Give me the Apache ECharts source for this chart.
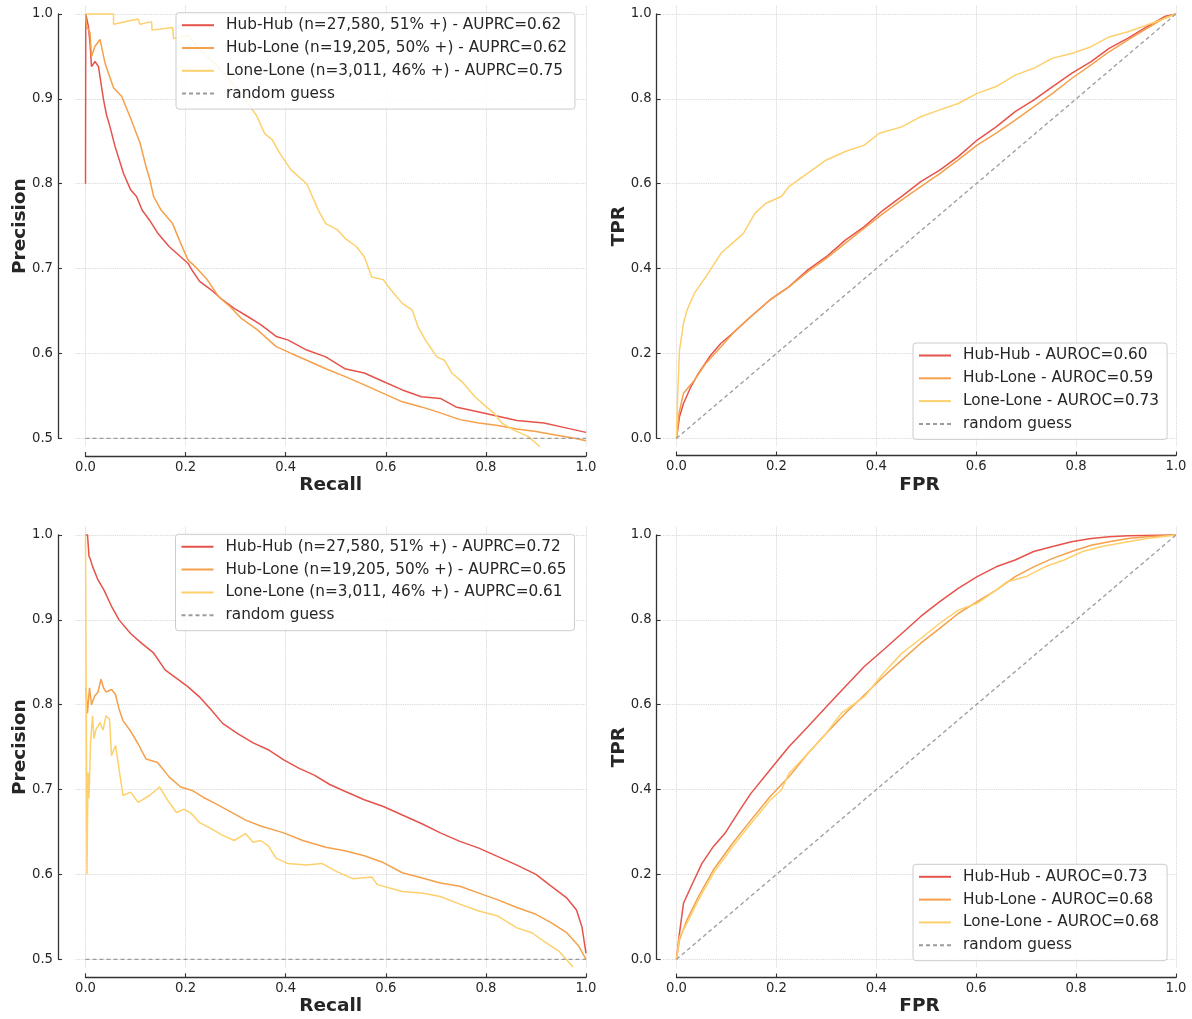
<!DOCTYPE html>
<html><head><meta charset="utf-8">
<script src="https://cdn.jsdelivr.net/npm/echarts@6/dist/echarts.min.js"></script>
<style>html,body{margin:0;padding:0;background:#fff}#c{width:1192px;height:1019px}</style>
</head><body><div id="c"></div>
<script>
// ---------------- DATA ----------------
// Panel 1 (top-left): precision-recall, [recall, precision]
const pr1HubHub = [[0,0.8],[0.0005,1.0],[0.0056,0.986],[0.009,0.966],[0.012,0.938],[0.019,0.944],[0.026,0.938],[0.029,0.926],[0.036,0.899],[0.042,0.881],[0.049,0.867],[0.059,0.844],[0.076,0.812],[0.09,0.793],[0.102,0.785],[0.113,0.769],[0.128,0.757],[0.144,0.742],[0.167,0.726],[0.19,0.714],[0.205,0.706],[0.213,0.698],[0.228,0.685],[0.251,0.675],[0.274,0.663],[0.297,0.653],[0.32,0.645],[0.35,0.634],[0.381,0.62],[0.404,0.616],[0.442,0.604],[0.48,0.596],[0.518,0.582],[0.557,0.577],[0.595,0.567],[0.633,0.557],[0.671,0.549],[0.709,0.547],[0.74,0.537],[0.786,0.531],[0.824,0.526],[0.862,0.521],[0.916,0.518],[0.962,0.512],[1.0,0.507]];
const pr1HubLone = [[0,1.0],[0.002,0.986],[0.009,0.978],[0.012,0.95],[0.019,0.962],[0.029,0.97],[0.032,0.968],[0.039,0.942],[0.056,0.913],[0.072,0.903],[0.089,0.879],[0.109,0.848],[0.121,0.82],[0.129,0.804],[0.136,0.785],[0.151,0.769],[0.174,0.753],[0.19,0.73],[0.205,0.71],[0.22,0.702],[0.243,0.687],[0.266,0.667],[0.289,0.655],[0.312,0.641],[0.343,0.628],[0.381,0.608],[0.411,0.6],[0.442,0.592],[0.48,0.582],[0.518,0.573],[0.557,0.563],[0.595,0.553],[0.633,0.543],[0.671,0.537],[0.709,0.53],[0.748,0.522],[0.786,0.518],[0.824,0.515],[0.862,0.511],[0.9,0.508],[0.939,0.504],[0.977,0.5],[1.0,0.497]];
const pr1LoneLone = [[0,1.0],[0.056,1.0],[0.056,0.988],[0.105,0.994],[0.109,0.988],[0.132,0.991],[0.133,0.981],[0.174,0.984],[0.176,0.971],[0.205,0.975],[0.228,0.958],[0.258,0.942],[0.289,0.922],[0.32,0.899],[0.343,0.879],[0.358,0.859],[0.373,0.852],[0.388,0.836],[0.411,0.816],[0.442,0.8],[0.465,0.769],[0.48,0.753],[0.503,0.746],[0.518,0.736],[0.541,0.726],[0.557,0.714],[0.572,0.69],[0.595,0.687],[0.61,0.675],[0.633,0.659],[0.653,0.651],[0.664,0.632],[0.679,0.616],[0.702,0.596],[0.717,0.592],[0.732,0.577],[0.755,0.565],[0.778,0.549],[0.801,0.537],[0.817,0.529],[0.832,0.518],[0.855,0.51],[0.885,0.502],[0.908,0.49]];
const pr1Random = [[0,0.5],[1,0.5]];

// Panel 2 (top-right): ROC, [FPR, TPR]
const roc1HubHub = [[0,0],[0.006,0.051],[0.014,0.082],[0.029,0.122],[0.044,0.153],[0.066,0.192],[0.089,0.224],[0.112,0.247],[0.149,0.287],[0.187,0.326],[0.225,0.357],[0.263,0.397],[0.3,0.428],[0.338,0.467],[0.376,0.499],[0.414,0.538],[0.451,0.57],[0.489,0.605],[0.527,0.632],[0.564,0.664],[0.602,0.703],[0.64,0.734],[0.678,0.77],[0.715,0.797],[0.753,0.829],[0.791,0.86],[0.83,0.888],[0.866,0.919],[0.904,0.943],[0.942,0.97],[0.979,0.995],[1,1]];
const roc1HubLone = [[0,0],[0.005,0.059],[0.014,0.106],[0.036,0.137],[0.059,0.177],[0.089,0.216],[0.119,0.255],[0.149,0.287],[0.187,0.326],[0.225,0.357],[0.263,0.393],[0.3,0.424],[0.338,0.46],[0.376,0.495],[0.414,0.53],[0.451,0.562],[0.489,0.593],[0.527,0.624],[0.564,0.656],[0.602,0.691],[0.64,0.719],[0.678,0.75],[0.715,0.781],[0.753,0.813],[0.791,0.848],[0.83,0.88],[0.866,0.911],[0.904,0.939],[0.942,0.966],[0.979,0.992],[1,1]];
const roc1LoneLone = [[0,0],[0.002,0.09],[0.006,0.208],[0.014,0.271],[0.021,0.302],[0.036,0.342],[0.059,0.381],[0.089,0.436],[0.112,0.46],[0.134,0.483],[0.157,0.53],[0.179,0.554],[0.21,0.57],[0.225,0.593],[0.263,0.625],[0.3,0.656],[0.338,0.676],[0.376,0.691],[0.406,0.719],[0.451,0.734],[0.489,0.758],[0.527,0.774],[0.564,0.789],[0.602,0.813],[0.64,0.829],[0.678,0.856],[0.715,0.872],[0.753,0.896],[0.791,0.907],[0.83,0.923],[0.866,0.946],[0.904,0.958],[0.942,0.974],[0.979,0.99],[1,1]];
const roc1Random = [[0,0],[1,1]];

// Panel 3 (bottom-left): precision-recall
const pr2HubHub = [[0,1.0],[0.004,1.0],[0.007,0.975],[0.01,0.971],[0.014,0.963],[0.025,0.947],[0.037,0.935],[0.052,0.916],[0.067,0.9],[0.09,0.884],[0.113,0.872],[0.136,0.861],[0.159,0.841],[0.182,0.831],[0.205,0.821],[0.228,0.809],[0.251,0.794],[0.274,0.778],[0.304,0.766],[0.335,0.755],[0.365,0.747],[0.396,0.735],[0.427,0.725],[0.457,0.717],[0.488,0.706],[0.518,0.698],[0.557,0.688],[0.595,0.68],[0.633,0.67],[0.671,0.66],[0.709,0.649],[0.748,0.639],[0.786,0.631],[0.824,0.621],[0.862,0.611],[0.9,0.6],[0.931,0.586],[0.962,0.572],[0.981,0.558],[0.992,0.538],[1.0,0.507]];
const pr2HubLone = [[0.001,0.82],[0.004,0.79],[0.008,0.82],[0.012,0.8],[0.018,0.81],[0.025,0.815],[0.031,0.83],[0.036,0.82],[0.041,0.815],[0.052,0.818],[0.06,0.812],[0.067,0.795],[0.075,0.781],[0.09,0.769],[0.105,0.754],[0.121,0.736],[0.144,0.732],[0.167,0.715],[0.19,0.703],[0.213,0.699],[0.235,0.691],[0.258,0.684],[0.289,0.674],[0.32,0.664],[0.35,0.657],[0.396,0.649],[0.434,0.64],[0.48,0.632],[0.518,0.628],[0.557,0.622],[0.595,0.614],[0.633,0.602],[0.671,0.596],[0.709,0.59],[0.748,0.586],[0.786,0.578],[0.824,0.57],[0.862,0.561],[0.9,0.553],[0.931,0.543],[0.962,0.531],[0.985,0.516],[1.0,0.5]];
const pr2LoneLone = [[0,1.0],[0.0015,0.8],[0.003,0.6],[0.005,0.72],[0.007,0.69],[0.01,0.755],[0.014,0.787],[0.017,0.76],[0.021,0.771],[0.029,0.779],[0.035,0.77],[0.041,0.787],[0.048,0.783],[0.052,0.74],[0.06,0.752],[0.067,0.724],[0.075,0.693],[0.09,0.697],[0.105,0.685],[0.128,0.693],[0.148,0.703],[0.167,0.685],[0.182,0.673],[0.197,0.677],[0.213,0.671],[0.228,0.661],[0.251,0.654],[0.274,0.646],[0.297,0.64],[0.32,0.648],[0.335,0.638],[0.35,0.64],[0.365,0.634],[0.381,0.619],[0.404,0.613],[0.442,0.611],[0.472,0.613],[0.503,0.603],[0.534,0.595],[0.572,0.597],[0.583,0.588],[0.633,0.58],[0.671,0.578],[0.709,0.574],[0.748,0.565],[0.786,0.557],[0.824,0.551],[0.862,0.537],[0.893,0.531],[0.916,0.521],[0.947,0.509],[0.974,0.491]];
const pr2Random = [[0,0.5],[1,0.5]];

// Panel 4 (bottom-right): ROC
const roc2HubHub = [[0,0],[0.005,0.053],[0.014,0.132],[0.029,0.171],[0.051,0.226],[0.074,0.266],[0.097,0.297],[0.127,0.352],[0.149,0.391],[0.187,0.446],[0.225,0.501],[0.263,0.548],[0.3,0.595],[0.338,0.643],[0.376,0.69],[0.414,0.729],[0.451,0.768],[0.489,0.808],[0.527,0.843],[0.564,0.874],[0.602,0.902],[0.64,0.925],[0.678,0.941],[0.715,0.961],[0.753,0.973],[0.791,0.984],[0.83,0.992],[0.866,0.996],[0.904,0.998],[1,1]];
const roc2HubLone = [[0,0],[0.006,0.046],[0.021,0.093],[0.044,0.148],[0.074,0.211],[0.112,0.273],[0.149,0.328],[0.187,0.383],[0.225,0.43],[0.263,0.485],[0.3,0.533],[0.338,0.58],[0.376,0.623],[0.414,0.666],[0.451,0.705],[0.489,0.745],[0.527,0.78],[0.564,0.815],[0.602,0.843],[0.64,0.87],[0.678,0.902],[0.715,0.925],[0.753,0.945],[0.791,0.961],[0.83,0.976],[0.866,0.984],[0.904,0.992],[0.942,0.996],[1,1]];
const roc2LoneLone = [[0,0],[0.006,0.053],[0.021,0.085],[0.044,0.14],[0.074,0.203],[0.112,0.265],[0.149,0.32],[0.187,0.375],[0.21,0.399],[0.225,0.438],[0.263,0.485],[0.3,0.533],[0.33,0.58],[0.376,0.619],[0.414,0.674],[0.451,0.721],[0.489,0.756],[0.527,0.792],[0.564,0.823],[0.602,0.839],[0.64,0.87],[0.662,0.89],[0.7,0.902],[0.738,0.925],[0.776,0.941],[0.813,0.961],[0.851,0.973],[0.904,0.984],[0.942,0.992],[1,1]];
const roc2Random = [[0,0],[1,1]];

const xTicks = [0, 0.2, 0.4, 0.6, 0.8, 1.0];
const prNames1 = ['Hub-Hub (n=27,580, 51% +) - AUPRC=0.62','Hub-Lone (n=19,205, 50% +) - AUPRC=0.62','Lone-Lone (n=3,011, 46% +) - AUPRC=0.75','random guess'];
const prNames2 = ['Hub-Hub (n=27,580, 51% +) - AUPRC=0.72','Hub-Lone (n=19,205, 50% +) - AUPRC=0.65','Lone-Lone (n=3,011, 46% +) - AUPRC=0.61','random guess'];
const rocNames1 = ['Hub-Hub - AUROC=0.60','Hub-Lone - AUROC=0.59','Lone-Lone - AUROC=0.73','random guess'];
const rocNames2 = ['Hub-Hub - AUROC=0.73','Hub-Lone - AUROC=0.68','Lone-Lone - AUROC=0.68','random guess'];

// ---------------- STYLE / LAYOUT ----------------
const COLORS = ['#e5534b', '#f5a04a', '#fdd06c'];
const GRAY = '#9b9b9b';
const FONT = 'DejaVu Sans';
const TXT = '#262626';
const SPINE = '#333333';

const panels = [
  {x0:85.5, x1:586, yTop:14, yBot:438.3, vTop:1.0, vBot:0.5, xlim:[-0.02,1.0], ylim:[0.49,1.01], spineY:456, spineX:58, yInt:0.1,
   xName:'Recall', yName:'Precision', yGap:46, series:[pr1HubHub,pr1HubLone,pr1LoneLone,pr1Random], names:prNames1, legend:{left:176, top:12.7}},
  {x0:676.5, x1:1176, yTop:14, yBot:438.3, vTop:1.0, vBot:0.0, xlim:[-0.027,1.0], ylim:[-0.02,1.02], spineY:455.5, spineX:656.7, yInt:0.2,
   xName:'FPR', yName:'TPR', yGap:34, series:[roc1HubHub,roc1HubLone,roc1LoneLone,roc1Random], names:rocNames1, legend:{left:913, top:343}},
  {x0:85.5, x1:586, yTop:535, yBot:959.3, vTop:1.0, vBot:0.5, xlim:[-0.02,1.0], ylim:[0.49,1.01], spineY:977.3, spineX:58, yInt:0.1,
   xName:'Recall', yName:'Precision', yGap:46, series:[pr2HubHub,pr2HubLone,pr2LoneLone,pr2Random], names:prNames2, legend:{left:175.5, top:534.3}},
  {x0:676.5, x1:1176, yTop:535, yBot:959.3, vTop:1.0, vBot:0.0, xlim:[-0.027,1.0], ylim:[-0.02,1.02], spineY:977.5, spineX:656.7, yInt:0.2,
   xName:'FPR', yName:'TPR', yGap:34, series:[roc2HubHub,roc2HubLone,roc2LoneLone,roc2Random], names:rocNames2, legend:{left:913, top:864.3}}
];

const grid = [], xAxis = [], yAxis = [], series = [], legend = [];
const splitStyle = {show:true, showMinLine:false, lineStyle:{color:'#d0d0d0', type:'dotted', width:0.9}};
function off(extra) {
  return Object.assign({type:'value', axisLine:{show:false, onZero:false}, axisTick:{show:false}, axisLabel:{show:false}, splitLine:{show:false}}, extra);
}
function lab() {
  return {show:true, inside:true, fontFamily:FONT, fontSize:13.2, color:TXT, margin:5, formatter:v => v.toFixed(1), showMinLabel:true, showMaxLabel:true};
}
function spineLine() { return {show:true, onZero:false, lineStyle:{color:SPINE, width:1.3}}; }
function spineTick() { return {show:true, inside:false, length:4, lineStyle:{color:SPINE, width:1.1}}; }

panels.forEach((p, i) => {
  const di = 3 * i, yi = 3 * i + 1, xi = 3 * i + 2;
  const sx = (p.x1 - p.x0);
  const sy = (p.yBot - p.yTop) / (p.vTop - p.vBot);
  const dLeft = p.x0 + p.xlim[0] * sx;
  const dRight = p.x0 + p.xlim[1] * sx;
  const dTop = p.yTop - (p.ylim[1] - p.vTop) * sy;
  const dBot = p.yBot + (p.vBot - p.ylim[0]) * sy;

  // data grid: curves, dotted grid lines, axis titles
  grid.push({left:dLeft, top:dTop, width:dRight-dLeft, height:dBot-dTop, containLabel:false, outerBoundsMode:'none'});
  xAxis.push({type:'value', gridIndex:di, min:p.xlim[0], max:p.xlim[1], splitNumber:5,
    axisLine:{show:false, onZero:false}, axisTick:{show:false}, axisLabel:{show:false},
    splitLine:Object.assign({}, splitStyle, {showMaxLine:true}),
    name:p.xName, nameLocation:'middle', nameGap:29,
    nameTextStyle:{fontFamily:FONT, fontWeight:'bold', fontSize:18.5, color:TXT}});
  yAxis.push({type:'value', gridIndex:di, min:p.ylim[0], max:p.ylim[1], splitNumber:5,
    axisLine:{show:false, onZero:false}, axisTick:{show:false}, axisLabel:{show:false},
    splitLine:Object.assign({}, splitStyle, {showMaxLine:false}),
    name:p.yName, nameLocation:'middle', nameGap:p.yGap,
    nameTextStyle:{fontFamily:FONT, fontWeight:'bold', fontSize:18.5, color:TXT}});

  // thin grid whose right edge is the trimmed y spine
  grid.push({left:p.spineX - 1, top:p.yTop, width:1, height:p.yBot-p.yTop, containLabel:false, outerBoundsMode:'none'});
  xAxis.push(off({gridIndex:yi, min:-1, max:0}));
  yAxis.push({type:'value', gridIndex:yi, min:p.vBot, max:p.vTop, interval:p.yInt, position:'right',
    axisLine:spineLine(), axisTick:spineTick(), axisLabel:lab(), splitLine:{show:false}});

  // thin grid whose top edge is the trimmed x spine
  grid.push({left:p.x0, top:p.spineY, width:p.x1-p.x0, height:1, containLabel:false, outerBoundsMode:'none'});
  xAxis.push({type:'value', gridIndex:xi, min:xTicks[0], max:xTicks[xTicks.length-1], interval:0.2, position:'top',
    axisLine:spineLine(), axisTick:spineTick(), axisLabel:lab(), splitLine:{show:false}});
  yAxis.push(off({gridIndex:xi, min:0, max:1}));

  const s = p.series;
  for (let k = 0; k < 4; k++) {
    const isRand = k === 3;
    series.push({type:'line', name:p.names[k], xAxisIndex:di, yAxisIndex:di, data:s[k],
      showSymbol:false, symbol:'none', smooth:false, silent:true, clip:true,
      lineStyle: isRand ? {color:GRAY, width:1.3, type:[4,3]} : {color:COLORS[k], width:1.5},
      itemStyle:{color: isRand ? GRAY : COLORS[k]},
      z: 2 + k});
  }
  legend.push({show:true, orient:'vertical', left:p.legend.left, top:p.legend.top, data:p.names,
    selectedMode:false, itemWidth:32, itemHeight:15, itemGap:7.8,
    itemStyle:{opacity:0, borderWidth:0},
    padding:[5, 8, 8, 5], backgroundColor:'rgba(255,255,255,0.85)', borderColor:'#cccccc', borderWidth:1, borderRadius:3,
    textStyle:{fontFamily:FONT, fontSize:15.3, color:TXT, lineHeight:15, padding:[0,0,0,7]}, z:10});
});

const chart = echarts.init(document.getElementById('c'), null, {renderer:'canvas'});
chart.setOption({
  backgroundColor:'#ffffff',
  animation:false,
  textStyle:{fontFamily:FONT},
  grid, xAxis, yAxis, series, legend
});
</script></body></html>
